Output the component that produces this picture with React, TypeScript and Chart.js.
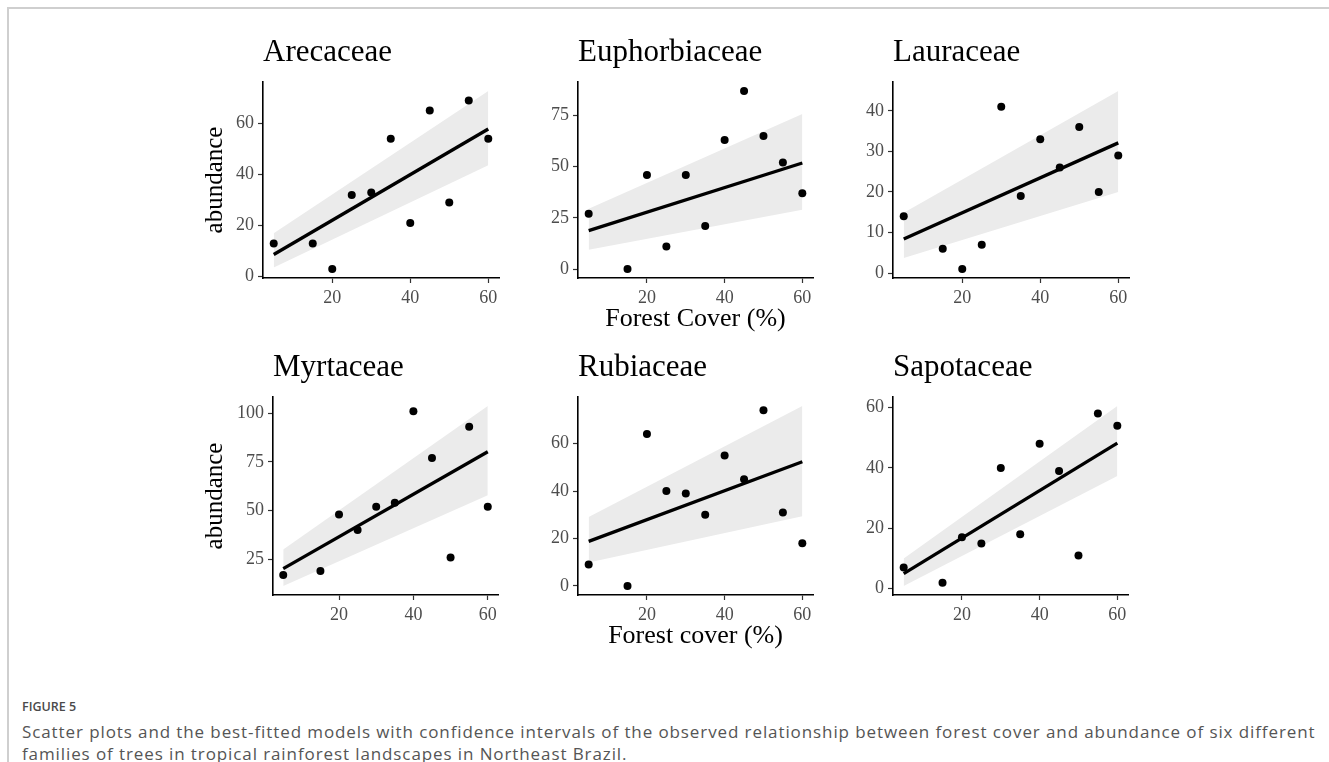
import React, { useEffect, useRef } from "react";
import { Chart, registerables } from "chart.js";

Chart.register(...registerables);

// ---------- data ----------
const forestCover = [5, 15, 20, 25, 30, 35, 40, 45, 50, 55, 60];
const xTicks = [20, 40, 60];
const fitX = [5, 60];

const arecaceae = [13, 13, 3, 32, 33, 54, 21, 65, 29, 69, 54];
const arecaceaeFit = [8.7, 57.8];
const arecaceaeLower = [3.6, 43.6];
const arecaceaeUpper = [17, 72.7];
const arecaceaeTicks = [0, 20, 40, 60];

const euphorbiaceae = [27, 0, 46, 11, 46, 21, 63, 87, 65, 52, 37];
const euphorbiaceaeFit = [18.8, 51.8];
const euphorbiaceaeLower = [9.5, 29];
const euphorbiaceaeUpper = [29.5, 75.7];
const euphorbiaceaeTicks = [0, 25, 50, 75];

const lauraceae = [14, 6, 1, 7, 41, 19, 33, 26, 36, 20, 29];
const lauraceaeFit = [8.4, 32.1];
const lauraceaeLower = [3.7, 20];
const lauraceaeUpper = [14.9, 44.9];
const lauraceaeTicks = [0, 10, 20, 30, 40];

const myrtaceae = [17, 19, 48, 40, 52, 54, 101, 77, 26, 93, 52];
const myrtaceaeFit = [20.2, 80.2];
const myrtaceaeLower = [11.3, 57.9];
const myrtaceaeUpper = [30.1, 103.7];
const myrtaceaeTicks = [25, 50, 75, 100];

const rubiaceae = [9, 0, 64, 40, 39, 30, 55, 45, 74, 31, 18];
const rubiaceaeFit = [18.8, 52.3];
const rubiaceaeLower = [9.9, 29.4];
const rubiaceaeUpper = [29.1, 75.8];
const rubiaceaeTicks = [0, 20, 40, 60];

const sapotaceae = [7, 2, 17, 15, 40, 18, 48, 39, 11, 58, 54];
const sapotaceaeFit = [5, 48.2];
const sapotaceaeLower = [0.9, 37.3];
const sapotaceaeUpper = [10, 60.5];
const sapotaceaeTicks = [0, 20, 40, 60];

const captionLabel = "FIGURE 5";
const captionLine1 =
  "Scatter plots and the best-fitted models with confidence intervals of the observed relationship between forest cover and abundance of six different";
const captionLine2 = "families of trees in tropical rainforest landscapes in Northeast Brazil.";

// ---------- layout / style ----------
const SERIF = '"Liberation Serif", "DejaVu Serif", serif';
const X_RANGE = [2.25, 62.75];
const Y_AXIS_W = 95;
const X_AXIS_H = 75;
const TOP_SPACE = 60;
const RIGHT_PAD = 20;
const TITLE_SIZE = 31;
const YTITLE_SIZE = 25;
const XTITLE_SIZE = 26;
const YTITLE_CENTER_X = 215;

type PanelDef = {
  title: string;
  values: number[];
  fit: number[];
  lower: number[];
  upper: number[];
  yTicks: number[];
  yRange: number[];
  plot: { l: number; r: number; t: number; b: number };
  yTitle?: string;
  xTitle?: string;
  xTitleCenterY?: number;
};

const panels: PanelDef[] = [
  { title: "Arecaceae", values: arecaceae, fit: arecaceaeFit, lower: arecaceaeLower, upper: arecaceaeUpper,
    yTicks: arecaceaeTicks, yRange: [-0.5, 76.2], plot: { l: 263, r: 499, t: 82, b: 278 }, yTitle: "abundance" },
  { title: "Euphorbiaceae", values: euphorbiaceae, fit: euphorbiaceaeFit, lower: euphorbiaceaeLower, upper: euphorbiaceaeUpper,
    yTicks: euphorbiaceaeTicks, yRange: [-4.35, 91.35], plot: { l: 578, r: 813, t: 82, b: 278 },
    xTitle: "Forest Cover (%)", xTitleCenterY: 319.5 },
  { title: "Lauraceae", values: lauraceae, fit: lauraceaeFit, lower: lauraceaeLower, upper: lauraceaeUpper,
    yTicks: lauraceaeTicks, yRange: [-1.2, 47.1], plot: { l: 893, r: 1129, t: 82, b: 278 } },
  { title: "Myrtaceae", values: myrtaceae, fit: myrtaceaeFit, lower: myrtaceaeLower, upper: myrtaceaeUpper,
    yTicks: myrtaceaeTicks, yRange: [6.7, 108.3], plot: { l: 273, r: 498, t: 397, b: 595 }, yTitle: "abundance" },
  { title: "Rubiaceae", values: rubiaceae, fit: rubiaceaeFit, lower: rubiaceaeLower, upper: rubiaceaeUpper,
    yTicks: rubiaceaeTicks, yRange: [-3.8, 79.6], plot: { l: 578, r: 813, t: 397, b: 595 },
    xTitle: "Forest cover (%)", xTitleCenterY: 636.2 },
  { title: "Sapotaceae", values: sapotaceae, fit: sapotaceaeFit, lower: sapotaceaeLower, upper: sapotaceaeUpper,
    yTicks: sapotaceaeTicks, yRange: [-2.1, 63.5], plot: { l: 893, r: 1128, t: 397, b: 595 } },
];

function PanelChart({ p }: { p: PanelDef }) {
  const ref = useRef<HTMLCanvasElement>(null);
  const cLeft = p.plot.l - Y_AXIS_W;
  const cTop = p.plot.t - TOP_SPACE;
  const cW = p.plot.r + RIGHT_PAD - cLeft;
  const cH = p.plot.b + X_AXIS_H - cTop;

  useEffect(() => {
    if (!ref.current) return;
    const titleBottomPad = 13.7;
    const titleTopPad = TOP_SPACE - TITLE_SIZE - titleBottomPad;
    const yTitlePad = YTITLE_CENTER_X - cLeft - YTITLE_SIZE / 2;
    const xTitlePad = p.xTitleCenterY ? p.plot.b + X_AXIS_H - p.xTitleCenterY - XTITLE_SIZE / 2 : 0;

    const pts = (ys: number[], xs: number[]) => xs.map((x, i) => ({ x, y: ys[i] }));

    const chart = new Chart(ref.current, {
      type: "line",
      data: {
        datasets: [
          {
            label: "observed",
            data: pts(p.values, forestCover),
            showLine: false,
            pointRadius: 4,
            pointBackgroundColor: "#000",
            pointBorderColor: "#000",
            pointBorderWidth: 0,
            borderColor: "#000",
          },
          {
            label: "fit",
            data: pts(p.fit, fitX),
            borderColor: "#000",
            borderWidth: 3.3,
            pointRadius: 0,
            fill: false,
          },
          {
            label: "lower",
            data: pts(p.lower, fitX),
            borderColor: "rgba(0,0,0,0)",
            borderWidth: 1,
            pointRadius: 0,
            fill: false,
          },
          {
            label: "upper",
            data: pts(p.upper, fitX),
            borderColor: "rgba(0,0,0,0)",
            borderWidth: 1,
            pointRadius: 0,
            fill: "-1",
            backgroundColor: "#ebebeb",
          },
        ],
      },
      options: {
        animation: false,
        responsive: false,
        events: [],
        layout: { padding: { top: 0, left: 0, right: RIGHT_PAD, bottom: 0 } },
        plugins: {
          legend: { display: false },
          tooltip: { enabled: false },
          title: {
            display: true,
            text: p.title,
            align: "start",
            fullSize: false,
            color: "#000",
            font: { family: SERIF, size: TITLE_SIZE, weight: "normal", lineHeight: 1 },
            padding: { top: titleTopPad, bottom: titleBottomPad },
          },
        },
        scales: {
          x: {
            type: "linear",
            min: X_RANGE[0],
            max: X_RANGE[1],
            afterBuildTicks: (s: any) => {
              s.ticks = xTicks.map((v) => ({ value: v }));
            },
            afterFit: (s: any) => {
              s.height = X_AXIS_H;
            },
            ticks: {
              color: "#4d4d4d",
              font: { family: SERIF, size: 18 },
              padding: 4,
              maxRotation: 0,
            },
            grid: {
              display: true,
              drawOnChartArea: false,
              drawTicks: true,
              tickLength: 5,
              tickColor: "#333",
              tickWidth: 1.2,
            },
            border: { display: true, color: "#000", width: 1.6 },
            title: {
              display: !!p.xTitle,
              text: p.xTitle || "",
              color: "#000",
              font: { family: SERIF, size: XTITLE_SIZE, lineHeight: 1 },
              padding: { top: 0, bottom: xTitlePad },
            },
          },
          y: {
            type: "linear",
            min: p.yRange[0],
            max: p.yRange[1],
            afterBuildTicks: (s: any) => {
              s.ticks = p.yTicks.map((v) => ({ value: v }));
            },
            afterFit: (s: any) => {
              s.width = Y_AXIS_W;
            },
            ticks: {
              color: "#4d4d4d",
              font: { family: SERIF, size: 18 },
              padding: 4,
            },
            grid: {
              display: true,
              drawOnChartArea: false,
              drawTicks: true,
              tickLength: 5,
              tickColor: "#333",
              tickWidth: 1.2,
            },
            border: { display: true, color: "#000", width: 1.6 },
            title: {
              display: !!p.yTitle,
              text: p.yTitle || "",
              color: "#000",
              font: { family: SERIF, size: YTITLE_SIZE, lineHeight: 1 },
              padding: { top: yTitlePad, bottom: 0 },
            },
          },
        },
      },
    } as any);
    return () => chart.destroy();
  }, []);

  return (
    <canvas
      ref={ref}
      width={cW}
      height={cH}
      style={{ position: "absolute", left: cLeft, top: cTop, width: cW, height: cH }}
    />
  );
}

export default function App() {
  return (
    <div
      style={{
        position: "fixed",
        left: 0,
        top: 0,
        width: 1329,
        height: 762,
        background: "#fff",
        overflow: "hidden",
      }}
    >
      <div
        style={{
          position: "absolute",
          left: 7,
          top: 7,
          width: 1340,
          height: 780,
          borderTop: "2px solid #cfcfcf",
          borderLeft: "2px solid #cfcfcf",
          boxSizing: "border-box",
        }}
      />
      {panels.map((p) => (
        <PanelChart key={p.title} p={p} />
      ))}
      <div
        style={{
          position: "absolute",
          left: 22,
          top: 698,
          fontFamily: '"Open Sans", "Noto Sans", sans-serif',
          fontWeight: 600,
          fontSize: 12.5,
          color: "#4a4a4a",
          whiteSpace: "nowrap",
        }}
      >
        {captionLabel}
      </div>
      <div
        style={{
          position: "absolute",
          left: 22,
          top: 721,
          fontFamily: '"Open Sans", "Noto Sans", sans-serif',
          fontSize: 17,
          letterSpacing: 0.9,
          lineHeight: "22px",
          color: "#555",
          whiteSpace: "nowrap",
        }}
      >
        {captionLine1}
        <br />
        {captionLine2}
      </div>
    </div>
  );
}
